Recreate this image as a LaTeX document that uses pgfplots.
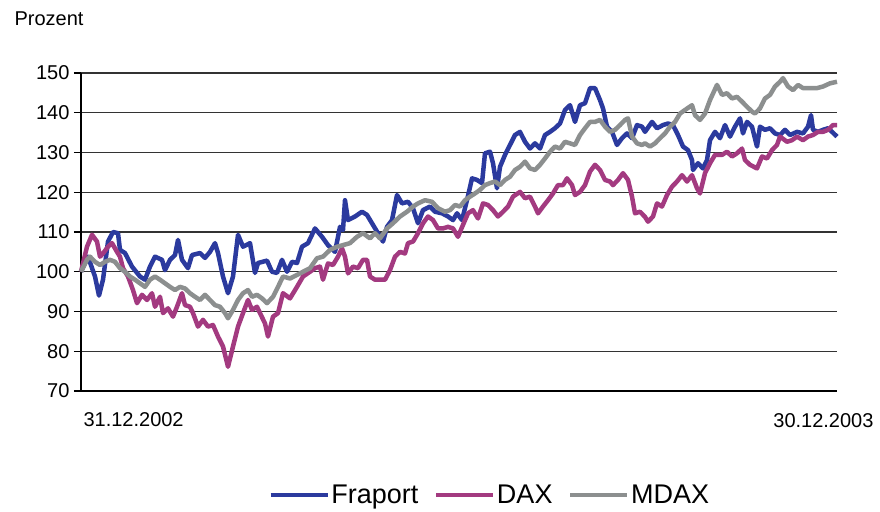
\documentclass[border=0pt]{standalone}
\usepackage{fontspec}
\setmainfont{Liberation Sans}
\usepackage{pgfplots}
\pgfplotsset{compat=1.18}
\definecolor{fblue}{HTML}{2B3A9E}
\definecolor{dmag}{HTML}{A33A80}
\definecolor{mgray}{HTML}{8C8F8F}
\begin{document}
\begin{tikzpicture}
\begin{axis}[
  name=ax,
  scale only axis,
  width=756pt, height=318pt,
  xmin=0, xmax=756, ymin=70, ymax=150,
  xtick=\empty,
  ytick={70,80,...,150},
  ymajorgrids,
  grid style={black!80, line width=1.4pt},
  axis x line*=bottom, axis y line*=left,
  axis line style={black, line width=1.3pt},
  y axis line style={-},
  x axis line style={-},
  tick align=outside,
  major tick length=7pt,
  tick style={black, line width=1.1pt},
  /pgf/number format/assume math mode=true,
  yticklabel style={font=\fontsize{20}{24}\selectfont, xshift=-1pt},
  clip=false,
  legend style={at={(0.541,-0.327)}, anchor=center, draw=none, fill=none,
    font=\fontsize{27}{32}\selectfont, legend columns=3,
    /tikz/every even column/.append style={column sep=14pt}},
  legend image code/.code={\draw[#1, line width=3.5pt] (0pt,0pt) -- (57pt,0pt);},
]
\addplot[fblue, line width=4.5pt, line join=round] coordinates {
(0,100)(7,103.8)(14,98.8)(18,94)(22,98)(27,107.6)(32,110)(37,109.7)(39,105.5)(44,104.7)
(51,101.3)(59,98.8)(64,98)(69,101.3)(74,103.8)(81,103)(84,100.4)(89,103)(94,104.2)(97,108)
(101,103)(107,100.9)(111,104.2)(119,104.7)(124,103.5)(129,105)(134,107.2)(137,104.7)(142,98.8)(147,94.6)
(152,98.8)(157,109.3)(162,106.3)(169,107.2)(174,99.7)(177,102.2)(186,102.8)(191,100)(196,99.7)(201,103)
(206,100)(211,102.5)(216,102.2)(221,106.3)(227,107.2)(234,110.9)(241,108.8)(247,106.7)(254,105)(259,111.3)
(262,110.5)(264,118)(267,113)(274,113.9)(281,115.1)(286,114.3)(291,112.2)(296,110.1)(302,107.6)(306,111.3)
(311,113)(316,119.3)(321,117.2)(327,117.6)(332,116)(337,112.2)(342,115.5)(349,116.4)(354,115.1)(361,114.7)
(367,113.9)(372,113)(376,114.7)(381,113)(386,118)(391,123.5)(396,123.1)(401,122.3)(404,129.8)(409,130.2)
(412,127.3)(416,121)(419,126.4)(424,129.4)(429,131.9)(434,134.4)(439,135.2)(444,132.7)(449,131)(454,132.3)
(459,131)(464,134.4)(469,135.2)(474,136.1)(479,137.3)(484,140.7)(489,141.9)(494,137.7)(499,141.9)(504,142.4)
(509,146.2)(514,146.2)(519,143.2)(522,141.1)(526,136.5)(531,135.2)(536,131.9)(541,133.6)(546,134.8)(551,133.6)
(556,136.9)(561,136.5)(564,135.2)(571,137.7)(576,136.1)(582,136.9)(587,137.3)(592,136.9)(597,134.4)(602,131.5)
(607,130.6)(611,128.1)(612,125.6)(617,127.3)(622,126)(626,128.1)(629,133.1)(634,135.2)(639,133.6)(644,136.9)
(649,134)(654,136.5)(659,138.6)(662,134.8)(666,137.7)(671,136.5)(676,131.5)(679,136.5)(684,135.7)(689,136.1)
(694,134.8)(699,134.4)(704,135.7)(709,134.4)(716,135.2)(722,134.8)(727,136.5)(730,139.4)(732,135.7)(737,135.2)
(742,135.7)(747,136.1)(751,135.2)(756,134)
};
\addlegendentry{Fraport}
\addplot[dmag, line width=4.5pt, line join=round] coordinates {
(0,100)(6,106.3)(11,109.3)(16,107.6)(19,103.8)(22,104.6)(27,106.3)(31,107.2)(36,105)(39,103.8)
(42,100.9)(47,98.8)(52,95.4)(56,92.1)(61,94.2)(66,92.9)(71,94.6)(74,91.2)(79,93.7)(82,89.6)
(87,90.8)(92,88.7)(96,91.2)(101,94.6)(104,91.6)(109,91.2)(112,89.6)(117,86.2)(122,87.9)(127,86.2)
(132,86.6)(137,83.7)(142,81.2)(147,76.1)(152,81.2)(157,86.2)(162,89.6)(167,92.9)(171,90.4)(176,91.2)
(179,89.6)(184,87)(187,83.7)(192,88.7)(197,89.6)(202,94.6)(209,93.3)(216,96.2)(222,98.8)(229,100)
(234,100.9)(239,101.3)(242,98)(247,102.1)(252,101.7)(257,103.8)(261,105.9)(264,103.8)(267,99.6)(272,101.3)
(277,100.9)(282,103)(286,103)(289,98.8)(294,98)(299,98)(304,98)(309,100.4)(314,103.8)(319,105)
(324,104.6)(327,107.2)(332,107.6)(337,109.7)(342,112.2)(347,113.9)(352,113)(357,110.9)(362,110.9)(367,111.3)
(372,110.9)(377,108.8)(382,111.8)(387,114.7)(392,115.5)(397,113.4)(402,117.2)(407,116.8)(412,115.5)(417,113.9)
(422,115.1)(427,116.4)(432,118.9)(439,120.1)(444,118.5)(449,118.9)(454,116.4)(457,114.7)(462,116.4)(467,118)
(472,119.7)(477,121.8)(482,121.8)(486,123.5)(491,121.8)(494,119.3)(499,120.1)(504,121.8)(509,125.2)(514,126.9)
(519,125.6)(524,123.1)(529,122.7)(532,121.8)(537,123.1)(542,124.8)(547,123.1)(551,118.9)(554,114.7)(559,115.1)
(564,113.8)(567,112.6)(572,113.9)(576,117.2)(581,116.4)(586,119.3)(591,121.4)(596,122.7)(601,124.3)(606,122.7)
(611,124.3)(616,121)(619,119.7)(624,124.8)(629,127.3)(634,129.4)(641,129.4)(646,130.2)(651,129)(656,129.8)
(661,131)(664,128.1)(669,126.9)(676,126)(681,129)(686,128.5)(691,130.6)(696,131.9)(699,134)(706,132.7)
(711,133.1)(716,134)(722,133.1)(727,134)(732,134.4)(737,135.2)(742,135.2)(747,135.7)(752,136.9)(756,136.9)
};
\addlegendentry{DAX}
\addplot[mgray, line width=4.5pt, line join=round] coordinates {
(0,100)(6,103)(9,103.8)(14,102.5)(19,101.7)(24,102.5)(29,103)(34,102.5)(39,100.9)(44,100)
(49,98.8)(54,98)(59,97.1)(64,96.2)(69,98)(74,98.8)(79,98)(84,97.1)(89,96.2)(94,95.4)
(99,96.2)(104,95.8)(109,94.6)(114,93.7)(119,92.9)(124,94.2)(129,92.9)(134,91.6)(139,91.2)(144,89.6)
(147,88.3)(152,90.4)(157,92.9)(162,94.6)(167,95.4)(171,93.7)(176,94.2)(181,93.3)(186,92.1)(192,93.7)
(197,96.2)(202,98.8)(209,98.3)(216,99.2)(222,100)(229,100.9)(236,103.4)(242,103.8)(249,105.5)(256,106.3)
(262,106.7)(269,107.2)(276,108.8)(282,109.7)(289,108.4)(294,109.7)(299,108.4)(306,110.9)(312,112.2)(319,113.9)
(326,115.1)(332,116.4)(337,117.2)(344,118)(351,117.6)(357,116)(364,115.1)(369,115.5)(374,116.8)(379,116.4)
(384,118)(389,118.9)(394,119.7)(399,120.6)(404,121.8)(409,122.3)(414,122.7)(419,121.8)(424,123.1)(429,123.9)
(434,125.6)(439,126.4)(444,127.7)(449,126)(454,125.6)(459,126.9)(464,128.5)(469,130.2)(474,131.5)(479,131)
(484,132.7)(489,132.3)(494,131.9)(499,134.4)(504,136.1)(509,137.7)(514,137.7)(519,138.2)(524,136.5)(529,135.2)
(534,135.7)(539,136.9)(544,138.2)(547,138.6)(551,134)(556,132.3)(561,131.9)(564,132.3)(569,131.5)(574,132.3)
(579,133.6)(584,134.8)(589,136.5)(594,137.7)(599,139.8)(604,140.7)(611,141.9)(614,139.4)(619,138.2)(624,139.8)
(629,143.2)(636,147)(641,144.5)(646,144.9)(651,143.6)(656,144)(661,142.8)(666,141.5)(671,140.3)(674,139.8)
(679,141.1)(684,143.6)(689,144.5)(694,146.6)(699,147.8)(702,148.7)(707,146.6)(712,145.7)(717,147)(722,146.2)
(729,146.2)(736,146.2)(742,146.6)(749,147.4)(756,147.8)
};
\addlegendentry{MDAX}
\node[anchor=west, font=\fontsize{20}{24}\selectfont] at (rel axis cs:0,0) [yshift=-29pt, xshift=-1pt] {31.12.2002};
\node[anchor=east, font=\fontsize{20}{24}\selectfont] at (rel axis cs:1,0) [yshift=-30pt, xshift=40pt] {30.12.2003};
\node[anchor=west, font=\fontsize{20}{24}\selectfont] at (rel axis cs:0,1) [xshift=-70pt, yshift=54pt] {Prozent};
\end{axis}
\pgfresetboundingbox
\path (ax.south west) ++(-81pt,-120pt) rectangle ++(880pt,511pt);
\end{tikzpicture}
\end{document}
